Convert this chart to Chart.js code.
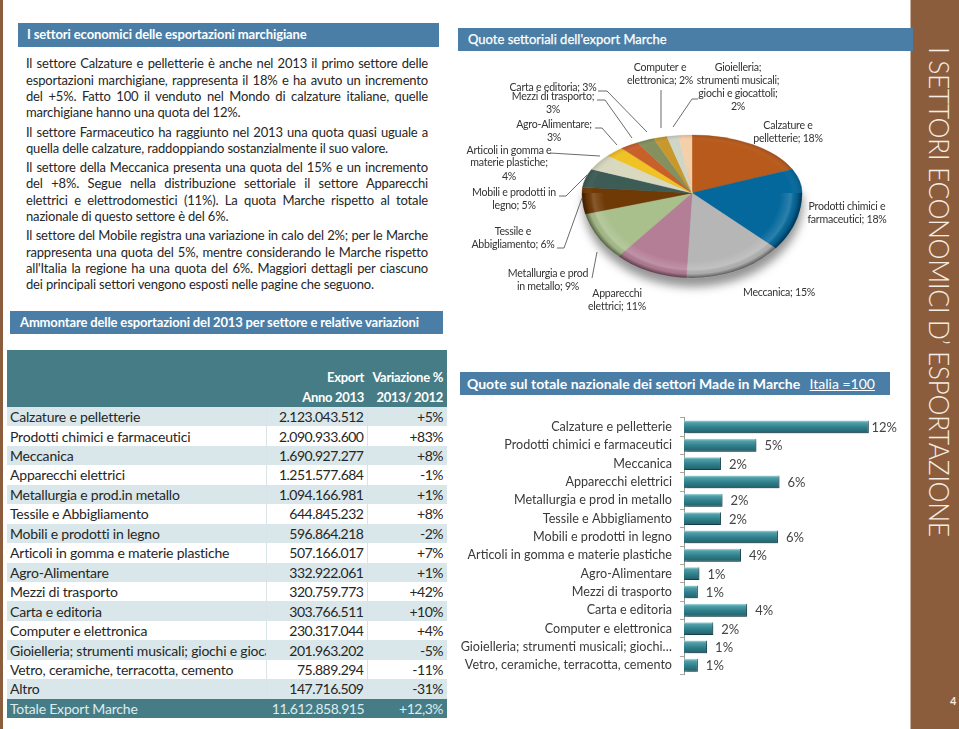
<!DOCTYPE html>
<html lang="it">
<head>
<meta charset="utf-8">
<script src="https://cdn.jsdelivr.net/npm/chart.js@4"></script>
<style>
html,body{margin:0;padding:0;background:#fff;overflow:hidden}
#page{position:relative;width:959px;height:729px;overflow:hidden;font-family:Lato,sans-serif;color:#262626}
.hd{position:absolute;background:#4a7ea6;color:#fff;font-weight:700;white-space:nowrap;box-sizing:border-box}
.ln{position:absolute;left:26px;width:402px;font-size:13px;letter-spacing:-.17px;line-height:16px;white-space:nowrap;height:16px}
.ln.j{text-align:justify;text-align-last:justify;white-space:normal;overflow:hidden}
#tb{position:absolute;left:7px;top:350px;width:440px;border-collapse:collapse;table-layout:fixed;font-size:14px}
#tb td{padding:0;height:19.46px;line-height:19px;white-space:nowrap;overflow:hidden;box-sizing:border-box}
#tb td.n{padding-left:3px;letter-spacing:-.2px}
#tb td.r{text-align:right;letter-spacing:-.5px}
#tb td.e{padding-right:3px;border-left:1px solid #d8e4e7;border-right:1px solid #d8e4e7}
#tb td.v{padding-right:4px}
#tb tr.o td{background:#d9e7ea}
#tb tr.w td{background:#fff}
#tb tr.h td{background:#467c85;color:#fff;font-weight:700;border:0;font-size:13px;letter-spacing:-.3px}
#tb tr.t td{background:#467c85;color:#dcecef;border:0}
#side{position:absolute;left:910px;top:0;width:49px;height:729px;background:#8c5d3c;border-left:1px solid #c9b39f;box-sizing:border-box}
#left{position:absolute;left:0;top:0;width:3px;height:729px;background:#8c5d3c}
#vt{position:absolute;left:952px;top:47px;transform-origin:0 0;transform:rotate(90deg);color:#f5ece2;font-size:26.5px;font-weight:300;white-space:nowrap;line-height:26px;letter-spacing:-.45px}
#num{position:absolute;left:950px;top:694px;color:#f3e9dd;font-size:11px;font-weight:700}
canvas{position:absolute}
</style>
</head>
<body>
<div id="page">
  <div id="left"></div>
  <div class="hd" style="left:18px;top:23px;width:421px;height:24px;padding-left:9px;font-size:13px;letter-spacing:-.12px;line-height:23px">I settori economici delle esportazioni marchigiane</div>
  <div id="body"></div>
  <div class="hd" style="left:10px;top:311px;width:433px;height:23px;padding-left:10px;font-size:13px;letter-spacing:-.14px;line-height:23px">Ammontare delle esportazioni del 2013 per settore e relative variazioni</div>
  <table id="tb"><colgroup><col style="width:259px"><col style="width:101px"><col style="width:80px"></colgroup><tbody id="tbb"></tbody></table>
  <canvas id="pie" width="452" height="280" style="left:458px;top:52px;width:452px;height:280px"></canvas>
  <div class="hd" style="left:460px;top:372px;width:430px;height:23px;padding-left:7px;font-size:14px;line-height:23px">Quote sul totale nazionale dei settori Made in Marche <span style="text-decoration:underline;font-weight:400;margin-left:6px">Italia =100</span></div>
  <canvas id="bar" width="450" height="290" style="left:458px;top:400px;width:450px;height:290px"></canvas>
  <div id="side"></div>
  <div class="hd" style="left:458px;top:28px;width:455px;height:23px;padding-left:10px;font-size:13px;line-height:22px;font-weight:400;-webkit-text-stroke:.25px #fff">Quote settoriali dell'export Marche</div>
  <div id="vt">I SETTORI ECONOMICI D’ ESPORTAZIONE</div>
  <div id="num">4</div>
</div>
<script>
/* ---------- table data ---------- */
const tableCategories = ["Calzature e pelletterie","Prodotti chimici e farmaceutici","Meccanica","Apparecchi elettrici","Metallurgia e prod.in metallo","Tessile e Abbigliamento","Mobili e prodotti in legno","Articoli in gomma e materie plastiche","Agro-Alimentare","Mezzi di trasporto","Carta e editoria","Computer e elettronica","Gioielleria; strumenti musicali; giochi e giocattoli","Vetro, ceramiche, terracotta, cemento","Altro"];
const exportTexts = ["2.123.043.512","2.090.933.600","1.690.927.277","1.251.577.684","1.094.166.981","644.845.232","596.864.218","507.166.017","332.922.061","320.759.773","303.766.511","230.317.044","201.963.202","75.889.294","147.716.509"];
const variationTexts = ["+5%","+83%","+8%","-1%","+1%","+8%","-2%","+7%","+1%","+42%","+10%","+4%","-5%","-11%","-31%"];
const totalRow = ["Totale Export Marche","11.612.858.915","+12,3%"];

/* ---------- pie data ---------- */
const pieCategories = ["Calzature e pelletterie","Prodotti chimici e farmaceutici","Meccanica","Apparecchi elettrici","Metallurgia e prod in metallo","Tessile e Abbigliamento","Mobili e prodotti in legno","Articoli in gomma e materie plastiche","Agro-Alimentare","Mezzi di trasporto","Carta e editoria","Computer e elettronica","Gioielleria; strumenti musicali; giochi e giocattoli","Vetro, ceramiche, terracotta, cemento","Altro"];
const pieValues = [2123043512,2090933600,1690927277,1251577684,1094166981,644845232,596864218,507166017,332922061,320759773,303766511,230317044,201963202,75889294,147716509];
const pieColors = ["#b85a1c","#04689c","#b6b6b6","#b47e96","#a9bf8c","#703a06","#3e5c56","#d9d9c0","#f0c224","#c8602a","#84905e","#c8982c","#cfd6c8","#f5cfa8","#f5cfa8"];

/* ---------- bar data ---------- */
const barCategories = ["Calzature e pelletterie","Prodotti chimici e farmaceutici","Meccanica","Apparecchi elettrici","Metallurgia e prod in metallo","Tessile e Abbigliamento","Mobili e prodotti in legno","Articoli in gomma e materie plastiche","Agro-Alimentare","Mezzi di trasporto","Carta e editoria","Computer e elettronica","Gioielleria; strumenti musicali; giochi…","Vetro, ceramiche, terracotta, cemento"];
const barValues = [12.0,4.7,2.4,6.2,2.5,2.4,6.1,3.7,1.0,0.9,4.1,1.9,1.5,0.9];
const barLabels = ["12%","5%","2%","6%","2%","2%","6%","4%","1%","1%","4%","2%","1%","1%"];

/* ---------- text ---------- */
const bodyLines = [
 [55,"Il settore Calzature e pelletterie è anche nel 2013 il primo settore delle",1],
 [71.5,"esportazioni marchigiane, rappresenta il 18% e ha avuto un incremento",1],
 [88,"del +5%. Fatto 100 il venduto nel Mondo di calzature italiane, quelle",1],
 [104,"marchigiane hanno una quota del 12%.",0],
 [123.5,"Il settore Farmaceutico ha raggiunto nel 2013 una quota quasi uguale a",1],
 [140,"quella delle calzature, raddoppiando sostanzialmente il suo valore.",0],
 [159,"Il settore della Meccanica presenta una quota del 15% e un incremento",1],
 [175,"del +8%. Segue nella distribuzione settoriale il settore Apparecchi",1],
 [191.5,"elettrici e elettrodomestici (11%). La quota Marche rispetto al totale",1],
 [207.5,"nazionale di questo settore è del 6%.",0],
 [227,"Il settore del Mobile registra una variazione in calo del 2%; per le Marche",1],
 [243.5,"rappresenta una quota del 5%, mentre considerando le Marche rispetto",1],
 [259.5,"all'Italia la regione ha una quota del 6%.  Maggiori dettagli per ciascuno",1],
 [276,"dei principali settori vengono esposti nelle pagine che seguono.",0]
];
const bodyEl = document.getElementById('body');
bodyLines.forEach(([y,t,j])=>{const d=document.createElement('div');d.className='ln'+(j?' j':'');d.style.top=y+'px';d.textContent=t;bodyEl.appendChild(d);});

/* ---------- table ---------- */
const tbb = document.getElementById('tbb');
function addRow(cls,a,b,c,h){const tr=document.createElement('tr');tr.className=cls;
  [a,b,c].forEach((t,i)=>{const td=document.createElement('td');td.className=['n','r e','r v'][i];td.textContent=t;if(h)td.style.height=h+'px';tr.appendChild(td);});tbb.appendChild(tr);}
addRow('h','','','',18);
addRow('h','','Export','Variazione %');
addRow('h','','Anno 2013','2013/ 2012');
tableCategories.forEach((n,i)=>addRow(i%2?'w':'o',n,exportTexts[i],variationTexts[i]));
addRow('t',totalRow[0],totalRow[1],totalRow[2]);

/* ---------- pie chart ---------- */
const pieLabelLayout = [
 {x:788,y:[126,139],t:["Calzature e","pelletterie; 18%"]},
 {x:847,y:[207,220],t:["Prodotti chimici e","farmaceutici; 18%"]},
 {x:779,y:[293],t:["Meccanica; 15%"]},
 {x:617,y:[294,307],t:["Apparecchi","elettrici; 11%"]},
 {x:548,y:[274,287],t:["Metallurgia e prod","in metallo; 9%"]},
 {x:513,y:[232,245],t:["Tessile e","Abbigliamento; 6%"]},
 {x:514,y:[193,206],t:["Mobili e prodotti in","legno; 5%"]},
 {x:509,y:[151,163,177],t:["Articoli in gomma e","materie plastiche;","4%"]},
 {x:554,y:[125,138],t:["Agro-Alimentare;","3%"]},
 {x:553,y:[97,110],t:["Mezzi di trasporto;","3%"]},
 {x:553,y:[88],t:["Carta e editoria; 3%"]},
 {x:660,y:[68,81],t:["Computer e","elettronica; 2%"]},
 {x:738,y:[68,81,94,107],t:["Gioielleria;","strumenti musicali;","giochi e giocattoli;","2%"]}
];
const leaderLayout = [
 [[598,91],[607,91],[647,132]],
 [[597,100],[605,100],[632,138]],
 [[595,128],[602,128],[617,145]],
 [[550,153],[600,156]],
 [[559,196],[566,196],[587,175]],
 [[557,248],[564,248],[582,198]],
 [[592,278],[597,252]],
 [[661,90],[661,128]],
 [[698,99],[692,99],[673,127]]
];
const PIE_X=234, PIE_Y=141, PIE_R=110, PIE_TOP=58/110, PIE_BOT=85/110, PO={x:458,y:52};

const ellipsePie = {
  id:'ellipsePie',
  beforeDatasetsDraw(chart){
    const c=chart.ctx, meta=chart.getDatasetMeta(0), W=chart.width, H=chart.height;
    c.save();
    c.filter='blur(5px)';
    c.fillStyle='rgba(60,60,60,.55)';
    c.beginPath();
    c.ellipse(PIE_X+1,PIE_Y+9,PIE_R,PIE_R*PIE_BOT,0,0,Math.PI);
    c.ellipse(PIE_X+1,PIE_Y+9,PIE_R,PIE_R*PIE_TOP*.6,0,Math.PI,2*Math.PI);
    c.fill();
    c.restore();
    [[0,PIE_Y,PIE_TOP,false],[PIE_Y,H-PIE_Y,PIE_BOT,true]].forEach(([y,h,k,front])=>{
      c.save();
      c.beginPath();c.rect(0,y,W,h);c.clip();
      c.translate(PIE_X,PIE_Y);c.scale(1,k);c.translate(-PIE_X,-PIE_Y);
      meta.controller.draw();
      const g=c.createRadialGradient(PIE_X,PIE_Y,0,PIE_X,PIE_Y,PIE_R);
      if(front){
        g.addColorStop(0,'rgba(255,255,255,0)');
        g.addColorStop(.8,'rgba(255,255,255,0)');
        g.addColorStop(.9,'rgba(255,255,255,.16)');
        g.addColorStop(.95,'rgba(0,0,0,.05)');
        g.addColorStop(1,'rgba(0,0,0,.5)');
      }else{
        g.addColorStop(0,'rgba(255,255,255,0)');
        g.addColorStop(.9,'rgba(255,255,255,0)');
        g.addColorStop(1,'rgba(0,0,0,.14)');
      }
      c.fillStyle=g;
      c.beginPath();c.arc(PIE_X,PIE_Y,PIE_R,0,2*Math.PI);c.fill();
      c.restore();
    });
    return false;
  },
  afterDraw(chart){
    const c=chart.ctx;
    c.save();
    c.strokeStyle='#6b6b6b';c.lineWidth=1;
    leaderLayout.forEach(pts=>{c.beginPath();pts.forEach((p,i)=>{const x=p[0]-PO.x,y=p[1]-PO.y;i?c.lineTo(x,y):c.moveTo(x,y);});c.stroke();});
    c.fillStyle='#333';c.font='10.6px Lato';c.letterSpacing='-.25px';c.textAlign='center';c.textBaseline='middle';
    pieLabelLayout.forEach(l=>l.t.forEach((s,i)=>c.fillText(s,l.x-PO.x,l.y[i]-PO.y)));
    c.restore();
  }
};
new Chart(document.getElementById('pie'),{
  type:'pie',
  data:{labels:pieCategories,datasets:[{data:pieValues,backgroundColor:pieColors,borderColor:pieColors,borderWidth:.5}]},
  options:{responsive:false,animation:false,radius:PIE_R,
    layout:{padding:{left:16,right:0,top:2,bottom:0}},
    plugins:{legend:{display:false},tooltip:{enabled:false}}},
  plugins:[ellipsePie]
});

/* ---------- bar chart ---------- */
const BAR_LABEL_RIGHT = 439;
const barShadow = {
  id:'barShadow',
  beforeDatasetDraw(chart){const c=chart.ctx;c.save();c.shadowColor='rgba(0,0,0,.4)';c.shadowBlur=3;c.shadowOffsetX=1.5;c.shadowOffsetY=2;},
  afterDatasetDraw(chart){chart.ctx.restore();},
  afterDraw(chart){
    const c=chart.ctx, meta=chart.getDatasetMeta(0);
    c.save();c.font='13px Lato';c.fillStyle='#444';c.textBaseline='middle';c.textAlign='left';
    meta.data.forEach((el,i)=>{const t=barLabels[i],w=c.measureText(t).width;
      c.fillText(t,Math.min(el.x+8,BAR_LABEL_RIGHT-w),el.y+1);});
    c.restore();
  }
};
function barFill(ctx){
  const ch=ctx.chart, s=ch.scales.y;
  const y=(s&&ctx.dataIndex!==undefined)?s.getPixelForValue(ctx.dataIndex):NaN;
  if(!Number.isFinite(y)) return '#2f7f8b';
  const g=ch.ctx.createLinearGradient(0,y-6.5,0,y+6.5);
  g.addColorStop(0,'#a9dde2');g.addColorStop(.18,'#4f9ea8');g.addColorStop(.55,'#2f7f8b');g.addColorStop(1,'#1f5f6a');
  return g;
}
new Chart(document.getElementById('bar'),{
  type:'bar',
  data:{labels:barCategories,datasets:[{data:barValues,backgroundColor:barFill,borderColor:'#1f5660',borderWidth:{right:1,bottom:1},borderSkipped:false,barPercentage:.7,categoryPercentage:1}]},
  options:{indexAxis:'y',responsive:false,animation:false,
    layout:{padding:{left:0,right:8.4,top:17.7,bottom:14.3}},
    scales:{
      x:{display:false,min:0,max:14},
      y:{afterFit(s){s.width=226;},
        grid:{display:true,drawOnChartArea:false,drawTicks:true,tickLength:4,color:'#b0a79c'},
        border:{display:true,color:'#9a9a9a'},
        ticks:{padding:8,color:'#3a3a3a',autoSkip:false,font:{family:'Lato',size:12.6}}}
    },
    plugins:{legend:{display:false},tooltip:{enabled:false}}},
  plugins:[barShadow]
});
</script>
</body>
</html>
